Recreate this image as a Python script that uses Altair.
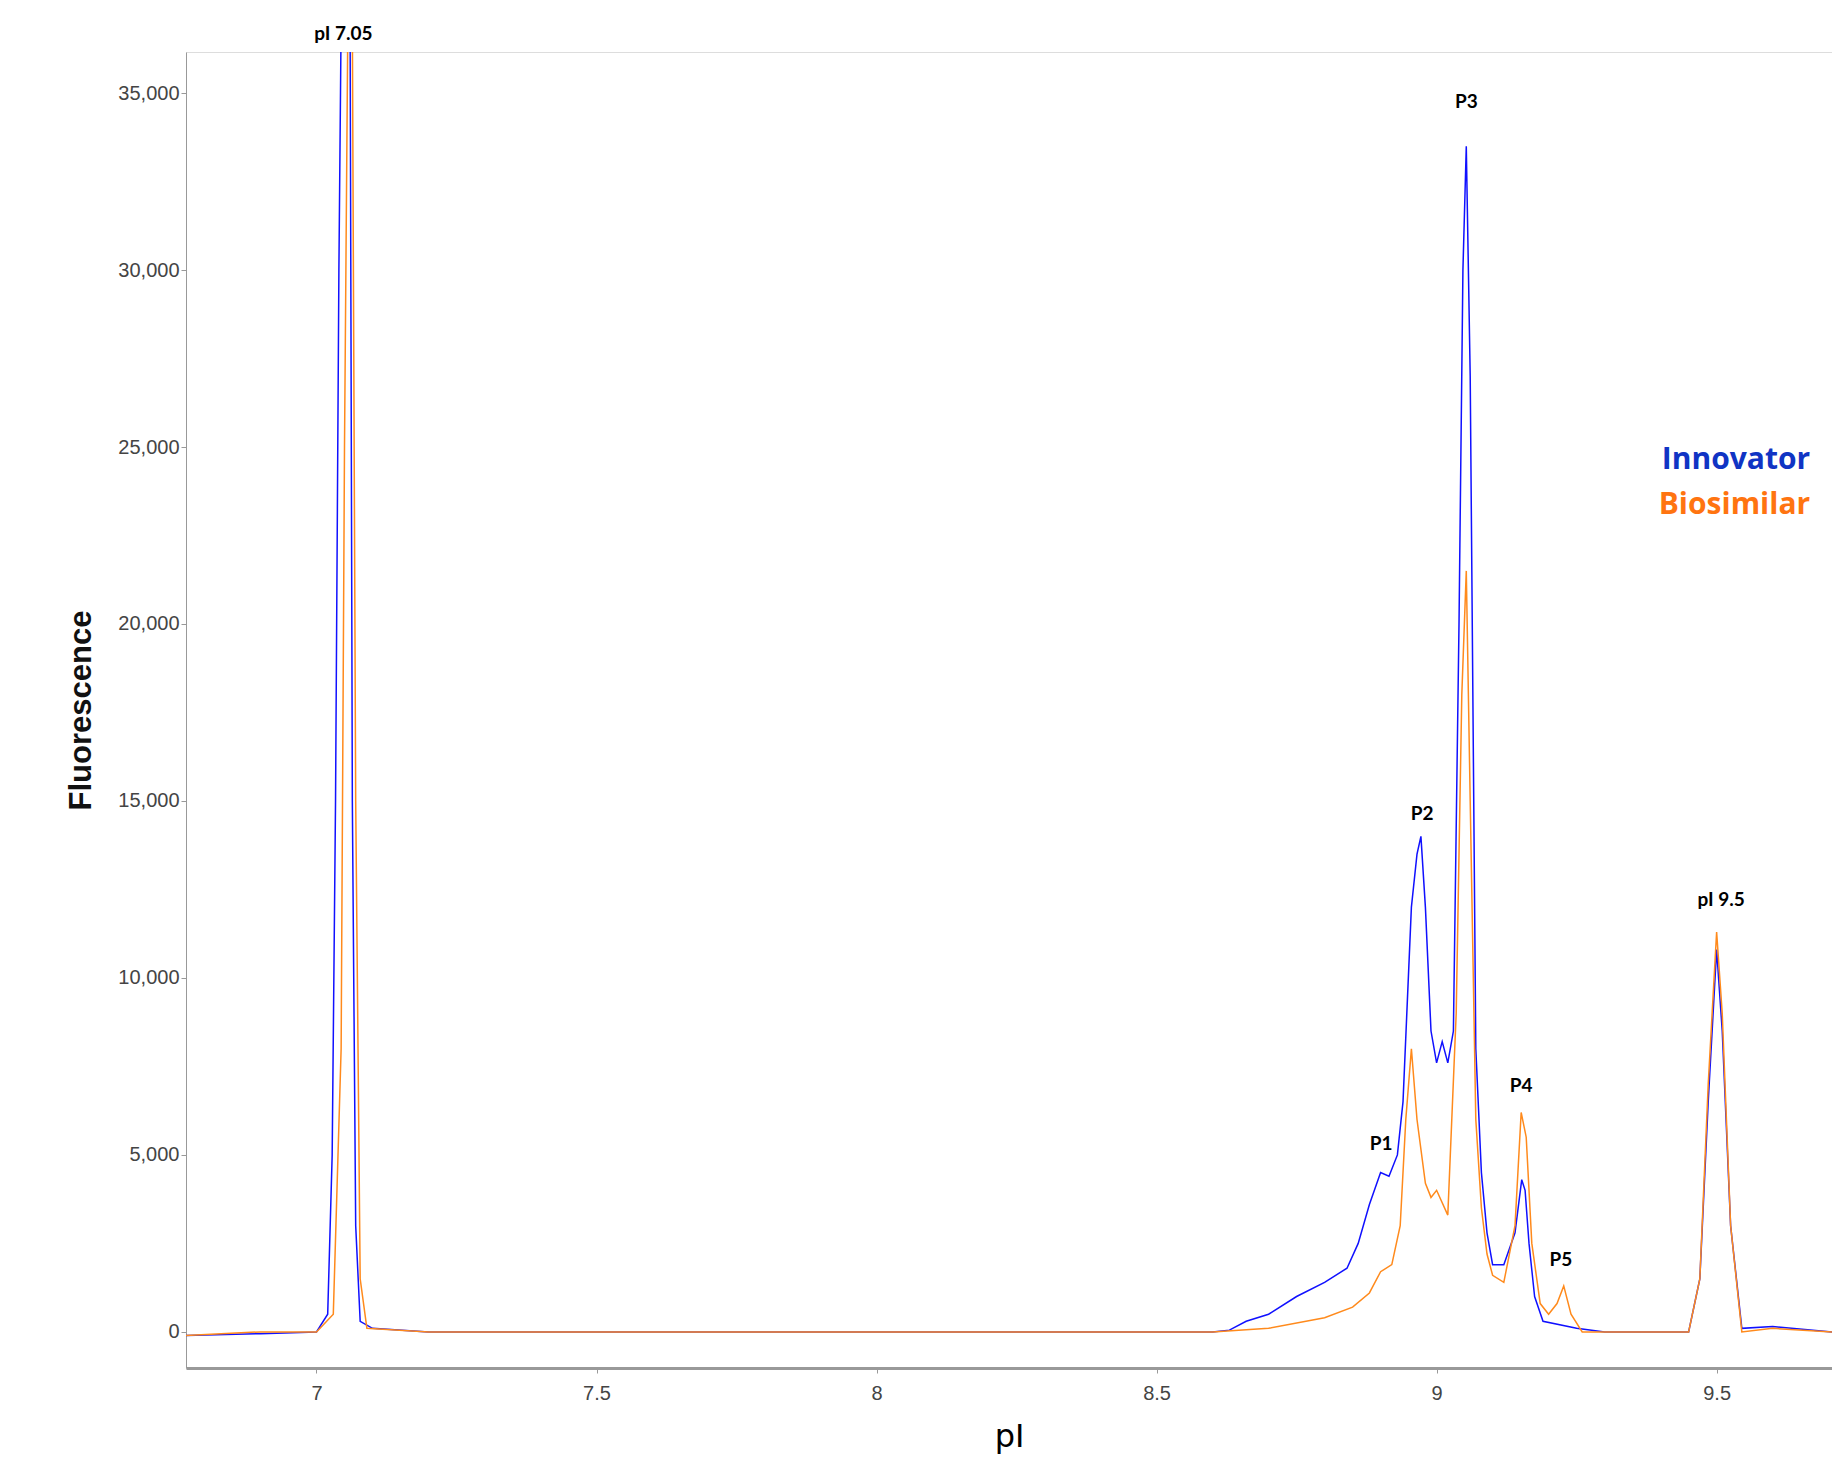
import altair as alt
import pandas as pd

# Innovator trace (pI, fluorescence)
inn_x = [6.767, 6.9, 7.0, 7.02, 7.028, 7.034, 7.04, 7.044, 7.05, 7.055, 7.06, 7.064, 7.07, 7.078, 7.1, 7.2,
         8.6, 8.63, 8.66, 8.7, 8.75, 8.8, 8.84, 8.86, 8.88, 8.9, 8.915, 8.93, 8.94, 8.955, 8.965, 8.972,
         8.98, 8.99, 9.0, 9.01, 9.02, 9.03, 9.04, 9.047, 9.053, 9.06, 9.07, 9.08, 9.09, 9.1, 9.12,
         9.14, 9.152, 9.158, 9.165, 9.175, 9.19, 9.25, 9.3,
         9.45, 9.47, 9.485, 9.5, 9.51, 9.525, 9.545, 9.6, 9.706]
inn_y = [-100, -50, 0, 500, 5000, 15000, 30000, 37000, 37000, 37000, 37000, 15000, 3000, 300, 100, 0,
         0, 50, 300, 500, 1000, 1400, 1800, 2500, 3600, 4500, 4400, 5000, 6500, 12000, 13500, 14000,
         12000, 8500, 7600, 8200, 7600, 8500, 20000, 30000, 33500, 27000, 8000, 4500, 2800, 1900, 1900,
         2800, 4300, 4000, 2500, 1000, 300, 100, 0,
         0, 1500, 6500, 10800, 8500, 3000, 100, 150, 0]

# Biosimilar trace
bio_x = [6.767, 6.9, 7.0, 7.03, 7.044, 7.05, 7.056, 7.064, 7.07, 7.078, 7.09, 7.2,
         8.6, 8.7, 8.8, 8.85, 8.88, 8.9, 8.92, 8.935, 8.945, 8.955, 8.965, 8.98, 8.99, 9.0, 9.02,
         9.035, 9.045, 9.053, 9.06, 9.07, 9.08, 9.09, 9.1, 9.12, 9.14, 9.151, 9.16, 9.17, 9.185,
         9.2, 9.215, 9.227, 9.24, 9.26,
         9.45, 9.47, 9.485, 9.5, 9.51, 9.525, 9.545, 9.6, 9.706]
bio_y = [-100, 0, 0, 500, 8000, 25000, 37000, 37000, 15000, 1500, 100, 0,
         0, 100, 400, 700, 1100, 1700, 1900, 3000, 6000, 8000, 6000, 4200, 3800, 4000, 3300,
         9000, 18000, 21500, 15000, 6000, 3500, 2200, 1600, 1400, 3000, 6200, 5500, 2500, 800,
         500, 800, 1300, 500, 0,
         0, 1500, 7000, 11300, 9000, 3000, 0, 100, 0]

lbl_text = ["pI 7.05", "P1", "P2", "P3", "P4", "P5", "pI 9.5"]
lbl_x = [7.048, 8.901, 8.974, 9.053, 9.151, 9.222, 9.508]
lbl_y = [36670, 5310, 14630, 34750, 6950, 2030, 12200]

leg_text = ["Innovator", "Biosimilar"]
leg_y = [24630, 23360]
leg_col = ["#1034c4", "#ff7410"]

df = pd.concat([
    pd.DataFrame({"pI": inn_x, "F": inn_y, "s": "Innovator"}),
    pd.DataFrame({"pI": bio_x, "F": bio_y, "s": "Biosimilar"}),
])
lbl = pd.DataFrame({"t": lbl_text, "x": lbl_x, "y": lbl_y})
leg = pd.DataFrame({"t": leg_text, "x": 9.667, "y": leg_y, "c": leg_col})

xs = alt.Scale(domain=[6.767, 9.706], nice=False, zero=False)
ys = alt.Scale(domain=[-1020, 36160], nice=False, zero=False)

lines = alt.Chart(df).mark_line(strokeWidth=1.5, clip=True).encode(
    x=alt.X("pI:Q", scale=xs, title="pI",
            axis=alt.Axis(values=[7, 7.5, 8, 8.5, 9, 9.5], labelExpr="format(datum.value, '~g')",
                          grid=False, domainColor="#999", domainWidth=3, tickColor="#999",
                          labelFontSize=20, labelColor="#444", labelPadding=10, labelFont="Liberation Sans",
                          titleFontSize=32, titleFont="DejaVu Sans", titleFontWeight="normal",
                          titlePadding=18)),
    y=alt.Y("F:Q", scale=ys, title="Fluorescence",
            axis=alt.Axis(values=list(range(0, 35001, 5000)), format=",d", grid=False,
                          domainColor="#999", tickColor="#999", labelFontSize=20, labelColor="#444",
                          labelFont="Liberation Sans", titleFontSize=31, titleFont="Liberation Sans",
                          titleFontWeight="bold", titleColor="#111", titlePadding=20)),
    color=alt.Color("s:N", scale=alt.Scale(domain=["Biosimilar", "Innovator"],
                                           range=["#ff8a1c", "#1010ff"]), legend=None),
    order=alt.Order("s:N"),
)

labels = alt.Chart(lbl).mark_text(font="Lato", fontWeight="bold", fontSize=19, color="black").encode(
    x="x:Q", y="y:Q", text="t:N")

legend = alt.Chart(leg).mark_text(font="Open Sans", fontWeight="bold", fontSize=30, align="right").encode(
    x="x:Q", y="y:Q", text="t:N", color=alt.Color("c:N", scale=None))

chart = (lines + labels + legend).properties(
    width=1646, height=1316, autosize="none",
    padding={"left": 178, "top": 44, "right": 0, "bottom": 90},
).configure_view(stroke=None).configure(background="white")

chart.save("out.html", embed_options={"renderer": "svg", "actions": False})
